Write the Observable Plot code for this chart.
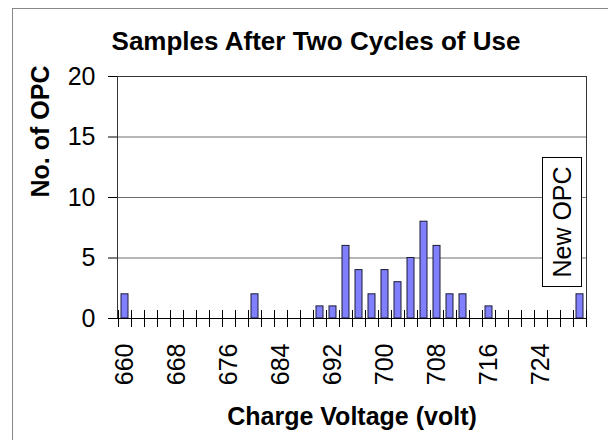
<!DOCTYPE html>
<html><head><meta charset="utf-8">
<script src="https://cdn.jsdelivr.net/npm/d3@7"></script>
<script src="https://cdn.jsdelivr.net/npm/@observablehq/plot@0.6"></script>
<style>
body{margin:0;background:#fff;}
#wrap{position:relative;width:608px;height:440px;overflow:hidden;background:#fff;}
#border{position:absolute;left:12px;top:8px;width:640px;height:480px;border-left:1px solid #888;border-top:1px solid #888;}
#chart{position:absolute;left:0;top:0;}
</style></head><body>
<div id="wrap"><div id="border"></div><div id="chart"></div></div>
<script>
const chartTitle = "Samples After Two Cycles of Use";
const xTitle = "Charge Voltage (volt)";
const yTitle = "No. of OPC";
const voltages = [660,662,664,666,668,670,672,674,676,678,680,682,684,686,688,690,692,694,696,698,700,702,704,706,708,710,712,714,716,718,720,722,724,726,728,730];
const counts   = [2,0,0,0,0,0,0,0,0,0,2,0,0,0,0,1,1,6,4,2,4,3,5,8,6,2,2,0,1,0,0,0,0,0,0,2];
const xTickLabels = [660,668,676,684,692,700,708,716,724];
const yTicks = [0,5,10,15,20];
const annotationText = "New OPC";
const annotationVoltage = 730;

const data = voltages.map((v, i) => ({voltage: v, count: counts[i]}));
const font = "Liberation Sans, Arial, sans-serif";

const plot = Plot.plot({
  width: 608,
  height: 440,
  marginLeft: 117,
  marginRight: 22,
  marginTop: 76,
  marginBottom: 122,
  style: {fontFamily: font, fontSize: "25px", color: "#000", background: "transparent"},
  x: {type: "band", domain: voltages, paddingInner: 0.5, paddingOuter: 0.25,
      ticks: xTickLabels, tickSize: 0, tickPadding: 25, tickRotate: -90, label: null},
  y: {domain: [0, 20], ticks: yTicks, tickSize: 9, tickPadding: 13, label: null},
  marks: [
    Plot.ruleY(yTicks, {stroke: "#6e6e6e"}),
    Plot.frame({stroke: "#333"}),
    Plot.barY(data.filter(d => d.count > 0), {x: "voltage", y: "count", fill: "#8080ff", stroke: "#1a1a33", strokeWidth: 1}),
    Plot.ruleX(data, {x: "voltage", y1: 0, y2: 0, insetTop: -8, insetBottom: -9, dx: 6.5, stroke: "#000"}),
    Plot.ruleX([voltages[0]], {x: d => d, y1: 0, y2: 0, insetTop: -8, insetBottom: -9, dx: -6.5, stroke: "#000"}),
    Plot.ruleY([0], {stroke: "#000"}),
    Plot.text([chartTitle], {text: d => d, frameAnchor: "top", lineAnchor: "middle", dx: -36, dy: -35, fontSize: 26, fontWeight: "bold"}),
    Plot.text([xTitle], {text: d => d, frameAnchor: "bottom", lineAnchor: "middle", dy: 98, fontSize: 25, fontWeight: "bold"}),
    Plot.text([yTitle], {text: d => d, frameAnchor: "left", lineAnchor: "middle", dx: -77, rotate: -90, fontSize: 25, fontWeight: "bold"}),
    Plot.text([annotationVoltage], {x: d => d, text: () => annotationText, lineAnchor: "middle", dx: -17, dy: 24.5, rotate: -90, fontSize: 25, className: "newopc"})
  ]
});
document.getElementById("chart").append(plot);

const tn = plot.querySelector(".newopc text") || [...plot.querySelectorAll("text")].find(t => t.textContent === annotationText);
if (tn) {
  const sr = plot.getBoundingClientRect();
  const r = tn.getBoundingClientRect();
  const rect = document.createElementNS("http://www.w3.org/2000/svg", "rect");
  const cx = (r.left + r.right) / 2 - sr.left, cy = (r.top + r.bottom) / 2 - sr.top;
  rect.setAttribute("x", cx - 19.5);
  rect.setAttribute("y", cy - 64.5);
  rect.setAttribute("width", 39);
  rect.setAttribute("height", 129);
  rect.setAttribute("fill", "#fff");
  rect.setAttribute("stroke", "#000");
  const g = tn.closest("g");
  g.parentNode.insertBefore(rect, g);
}
</script>
</body></html>
